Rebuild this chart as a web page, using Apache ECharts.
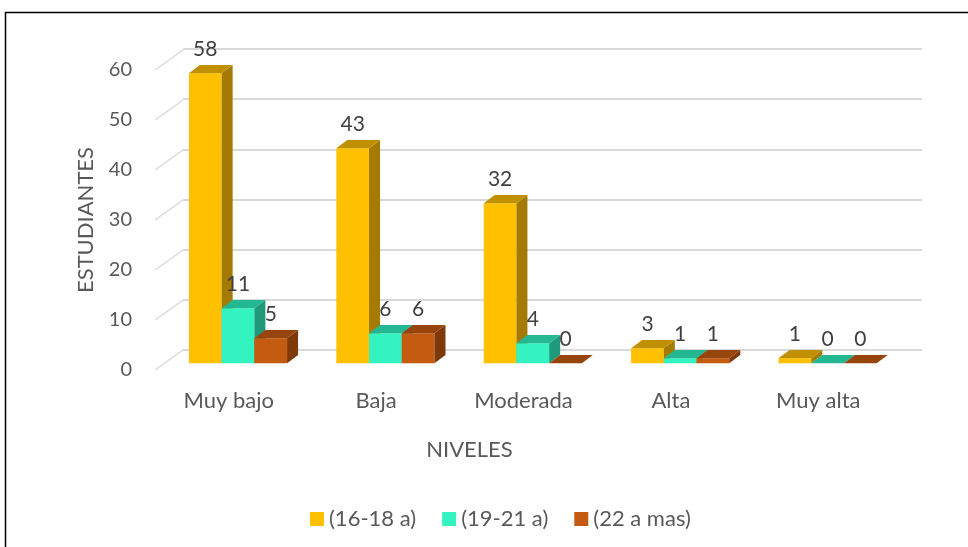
<!DOCTYPE html>
<html>
<head>
<meta charset="utf-8">
<script src="https://cdn.jsdelivr.net/npm/echarts@6/dist/echarts.min.js"></script>
<style>
html,body{margin:0;padding:0;background:#fff;}
#c{width:968px;height:547px;}
</style>
</head>
<body>
<div id="c"></div>
<script>
var categories = ['Muy bajo', 'Baja', 'Moderada', 'Alta', 'Muy alta'];
var seriesNames = ['(16-18 a)', '(19-21 a)', '(22 a mas)'];
var age1618 = [58, 43, 32, 3, 1];
var age1921 = [11, 6, 4, 1, 0];
var age22 = [5, 6, 0, 1, 0];
var yTicks = [0, 10, 20, 30, 40, 50, 60];

var FONT = 'Lato, "Open Sans", sans-serif';
var palettes = [
  {front: '#FFC000', top: '#C09000', side: '#A47B00'},
  {front: '#33F3C0', top: '#24B892', side: '#1E9A7A'},
  {front: '#C55A11', top: '#98450D', side: '#7D390A'}
];

function barRenderer(sIdx) {
  var pal = palettes[sIdx];
  return function (params, api) {
    var cat = api.value(0), v = api.value(1);
    var base = api.coord([cat, 0]);
    var topP = api.coord([cat, v]);
    var band = api.size([1, 0])[0];
    var bw = band * 0.222;
    var ox = 9.3, oy = -6.7;
    var dx = 11, dy = -8.3;
    var x0 = base[0] - 1.5 * bw + sIdx * bw + ox;
    var x1 = x0 + bw;
    var yb = base[1] + oy, yt = topP[1] + oy;
    var children = [];
    if (yb - yt > 0.5) {
      children.push({type: 'rect', shape: {x: x0, y: yt, width: bw, height: yb - yt}, style: {fill: pal.front}});
      children.push({type: 'polygon', shape: {points: [[x1, yt], [x1 + dx, yt + dy], [x1 + dx, yb + dy], [x1, yb]]}, style: {fill: pal.side}});
    }
    children.push({type: 'polygon', shape: {points: [[x0, yt], [x1, yt], [x1 + dx, yt + dy], [x0 + dx, yt + dy]]}, style: {fill: pal.top}});
    children.push({type: 'text', style: {text: String(v), x: (x0 + x1) / 2, y: yt + dy - 16, align: 'center', verticalAlign: 'middle', font: '21px ' + FONT, fill: '#404040'}});
    return {type: 'group', children: children};
  };
}

function toData(arr) { return arr.map(function (v, i) { return [i, v]; }); }

var seriesData = [age1618, age1921, age22];
var series = [];
series.push({
  type: 'custom',
  name: 'sidewall',
  xAxisIndex: 0, yAxisIndex: 0,
  silent: true,
  data: yTicks.map(function (t) { return [0, t]; }),
  encode: {x: 0, y: 1},
  renderItem: function (params, api) {
    var p = api.coord([0, api.value(1)]);
    var x = params.coordSys.x;
    return {type: 'line', shape: {x1: x, y1: p[1], x2: x + 28, y2: p[1] - 20}, style: {stroke: '#d9d9d9', lineWidth: 1.5}};
  },
  z: 1
});
seriesData.forEach(function (arr, s) {
  series.push({
    type: 'custom',
    name: seriesNames[s],
    xAxisIndex: 0, yAxisIndex: 0,
    itemStyle: {color: palettes[s].front},
    data: toData(arr),
    encode: {x: 0, y: 1},
    renderItem: barRenderer(s),
    z: 3 + s
  });
});

var chart = echarts.init(document.getElementById('c'));
chart.setOption({
  animation: false,
  backgroundColor: '#ffffff',
  textStyle: {fontFamily: FONT},
  graphic: [{
    type: 'polyline',
    shape: {points: [[5.5, 560], [5.5, 12.5], [980, 12.5]]},
    style: {stroke: '#000', lineWidth: 1.5, fill: null},
    z: 10
  }],
  grid: [
    {left: 155, right: 76, top: 70, bottom: 177},
    {left: 183, right: 46, top: 49, bottom: 197}
  ],
  legend: {
    data: seriesNames,
    left: 305, top: 503,
    icon: 'rect', itemWidth: 14, itemHeight: 14, itemGap: 26,
    textStyle: {fontSize: 22, color: '#595959', fontFamily: FONT}
  },
  xAxis: [{
    type: 'category', gridIndex: 0, data: categories,
    axisLine: {show: false}, axisTick: {show: false},
    axisLabel: {fontSize: 22, color: '#595959', margin: 20, fontFamily: FONT},
    name: 'NIVELES', nameLocation: 'middle', nameGap: 69,
    nameTextStyle: {fontSize: 22, color: '#595959', fontFamily: FONT, padding: [0, 108, 0, 0]},
    splitLine: {show: false}
  }, {
    type: 'category', gridIndex: 1, data: categories, show: false
  }],
  yAxis: [{
    type: 'value', gridIndex: 0, min: 0, max: 60, interval: 10,
    axisLine: {show: false}, axisTick: {show: false},
    axisLabel: {fontSize: 20, color: '#595959', margin: 23, fontFamily: FONT},
    splitLine: {show: false},
    name: 'ESTUDIANTES', nameLocation: 'middle', nameGap: 58, nameRotate: 90,
    nameTextStyle: {fontSize: 22, color: '#595959', fontFamily: FONT}
  }, {
    type: 'value', gridIndex: 1, min: 0, max: 60, interval: 10,
    axisLine: {show: false}, axisTick: {show: false}, axisLabel: {show: false},
    splitLine: {show: true, lineStyle: {color: '#d9d9d9', width: 2}}
  }],
  series: series
});
</script>
</body>
</html>
